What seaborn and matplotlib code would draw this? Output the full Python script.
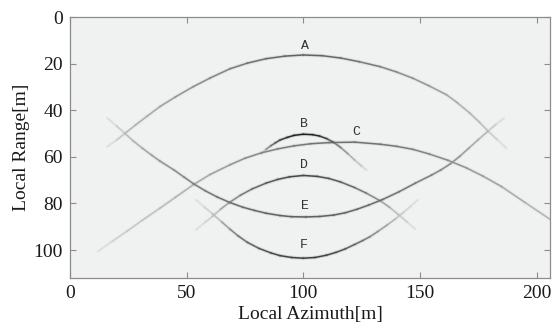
import matplotlib

matplotlib.use("Agg")
import matplotlib.pyplot as plt  # noqa: E402
import pandas as pd  # noqa: E402
import seaborn as sns  # noqa: E402

# curves (azimuth [m], range [m], relative amplitude)
A_x = [16, 20, 23.6, 28, 33, 38.6, 45, 52.8, 60, 68.6, 76, 84, 92, 100,
       108, 116, 124, 132.9, 140, 147, 154, 161.4, 166, 171.4, 175.5, 179.3, 183, 187]
A_y = [55.6, 52.8, 49.9, 46.4, 42.6, 38.4, 34.4, 29.9, 26.2, 22.2, 19.8, 17.9, 16.8, 16.3,
       16.6, 17.6, 19.2, 21.3, 23.6, 26.3, 29.6, 33.4, 36.8, 41.3, 45.2, 49.1, 52.6, 56.3]
A_amp = [0.2, 0.28, 0.38, 0.41, 0.43, 0.46, 0.49, 0.52, 0.55, 0.58, 0.62, 0.65, 0.68, 0.7,
         0.68, 0.65, 0.62, 0.58, 0.55, 0.52, 0.49, 0.46, 0.43, 0.41, 0.39, 0.36, 0.28, 0.2]

B_x = [82, 84, 86, 88, 90, 93, 96, 100, 104, 107, 110, 113, 116, 119, 122, 125, 127]
B_y = [58.5, 56.8, 55.3, 54.0, 52.8, 51.7, 50.8, 50.3, 50.5, 51.1, 52.2, 53.8, 56.0, 58.6,
       61.4, 64.0, 65.6]
B_amp = [0.3, 0.45, 0.6, 0.7, 0.78, 0.84, 0.88, 0.9, 0.88, 0.84, 0.78, 0.68, 0.55, 0.45,
         0.38, 0.3, 0.22]

C_x = [12, 18, 24.3, 31, 38.6, 45, 52.8, 60, 68.6, 75, 82, 89, 96, 103, 111, 122, 133,
       140, 147, 154, 162, 170, 177, 185, 195, 206]
C_y = [100.6, 96.3, 92.0, 87.2, 82.0, 77.5, 72.0, 67.6, 63.4, 60.6, 58.3, 56.6, 55.3, 54.4,
       53.9, 53.7, 54.6, 55.5, 56.8, 58.8, 61.5, 64.8, 68.3, 72.8, 79.6, 87.0]
C_amp = [0.2, 0.28, 0.32, 0.35, 0.38, 0.4, 0.43, 0.46, 0.5, 0.53, 0.56, 0.58, 0.6, 0.62,
         0.63, 0.63, 0.62, 0.6, 0.58, 0.56, 0.53, 0.5, 0.48, 0.45, 0.42, 0.4]

D_x = [54, 58, 61, 64.5, 68, 73, 78, 84, 89, 94, 100, 106, 111, 116, 122, 127, 133, 137,
       141, 144.5, 148]
D_y = [91.3, 88.0, 85.6, 82.5, 79.8, 76.5, 73.8, 71.3, 69.7, 68.6, 68.0, 68.4, 69.3, 70.8,
       73.2, 75.6, 78.9, 81.7, 85.0, 88.0, 91.0]
D_amp = [0.2, 0.26, 0.32, 0.42, 0.5, 0.58, 0.64, 0.7, 0.74, 0.77, 0.78, 0.77, 0.74, 0.7,
         0.64, 0.58, 0.5, 0.42, 0.34, 0.27, 0.2]

E_x = [16, 20, 23.5, 27, 31, 35, 38.5, 44.5, 49, 53, 58, 63, 68.5, 74, 79, 84, 90, 95, 101,
       107, 113, 118, 123, 128, 134, 141, 148, 155, 159, 163, 167, 171, 175, 179, 182.5, 186]
E_y = [43.4, 46.8, 49.9, 53.1, 56.3, 59.3, 61.8, 65.6, 68.8, 71.6, 74.6, 77.2, 79.6, 81.6,
       83.0, 84.2, 85.2, 85.7, 85.8, 85.6, 85.0, 84.0, 82.5, 80.7, 78.3, 75.0, 71.3, 67.8,
       65.6, 63.0, 59.8, 56.2, 52.6, 49.1, 46.1, 43.4]
E_amp = [0.2, 0.28, 0.36, 0.4, 0.44, 0.47, 0.5, 0.53, 0.56, 0.58, 0.6, 0.62, 0.64, 0.66,
         0.67, 0.68, 0.69, 0.7, 0.7, 0.7, 0.69, 0.68, 0.67, 0.66, 0.64, 0.62, 0.6, 0.57,
         0.55, 0.53, 0.5, 0.46, 0.42, 0.37, 0.28, 0.2]

F_x = [54, 57.5, 61, 65, 68.5, 72, 76, 81, 86, 90, 95, 100, 105, 110, 114, 118, 122, 125.5,
       128.5, 132, 136, 139.5, 143, 146, 149]
F_y = [78.4, 81.5, 84.4, 87.9, 91.0, 93.9, 96.7, 99.3, 101.2, 102.4, 103.2, 103.5, 103.2,
       102.2, 101.0, 99.5, 97.6, 95.9, 94.3, 92.0, 89.2, 86.6, 83.8, 81.2, 78.5]
F_amp = [0.2, 0.26, 0.32, 0.42, 0.52, 0.6, 0.66, 0.72, 0.76, 0.78, 0.8, 0.8, 0.8, 0.78,
         0.76, 0.72, 0.67, 0.62, 0.57, 0.5, 0.44, 0.37, 0.3, 0.25, 0.2]

target_names = ["A", "B", "C", "D", "E", "F"]
label_x = [100.7, 100.4, 122.6, 100.3, 100.7, 100.0]
label_y = [12.6, 45.9, 49.2, 63.4, 81.0, 98.0]

curves = [
    ("A", A_x, A_y, A_amp),
    ("B", B_x, B_y, B_amp),
    ("C", C_x, C_y, C_amp),
    ("D", D_x, D_y, D_amp),
    ("E", E_x, E_y, E_amp),
    ("F", F_x, F_y, F_amp),
]

rows = []
for name, xs, ys, amps in curves:
    for i in range(len(xs) - 1):
        a = (amps[i] + amps[i + 1]) / 2
        seg = f"{name}{i}"
        rows.append(dict(x=xs[i], y=ys[i], seg=seg, amp=a))
        rows.append(dict(x=xs[i + 1], y=ys[i + 1], seg=seg, amp=a))
df = pd.DataFrame(rows)

sns.set_theme(style="ticks")
plt.rcParams["font.family"] = ["Liberation Serif", "DejaVu Serif"]

fig = plt.figure(figsize=(5.52, 3.35), dpi=100)
ax = fig.add_axes([70 / 552, 1 - 278 / 335, 480 / 552, 261 / 335])
ax.set_facecolor("#f0f1f1")

common = dict(data=df, x="x", y="y", units="seg", estimator=None, hue="amp",
              palette="Greys", hue_norm=(0, 1), sort=False, legend=False, ax=ax,
              solid_capstyle="round")
sns.lineplot(linewidth=2.6, alpha=0.12, **common)  # soft blur around each curve
sns.lineplot(linewidth=1.1, **common)

for s, lx, ly in zip(target_names, label_x, label_y):
    ax.text(lx, ly, s, family="Liberation Mono", fontsize=9.5, color="#333333",
            ha="center", va="center")

ax.set_xlim(0, 205.7)
ax.set_ylim(112, 0)
ax.set_xticks([0, 50, 100, 150, 200])
ax.set_yticks([0, 20, 40, 60, 80, 100])
ax.tick_params(direction="in", length=4, width=0.8, color="#8c8c8c",
               top=True, right=True, labelsize=14, labelcolor="#1a1a1a", pad=5)
for sp in ax.spines.values():
    sp.set_color("#8c8c8c")
    sp.set_linewidth(0.9)

ax.set_xlabel("Local Azimuth[m]", fontsize=14, color="#1a1a1a", labelpad=3)
ax.set_ylabel("Local Range[m]", fontsize=14, color="#1a1a1a", labelpad=3)

fig.savefig("out.png", dpi=100)
